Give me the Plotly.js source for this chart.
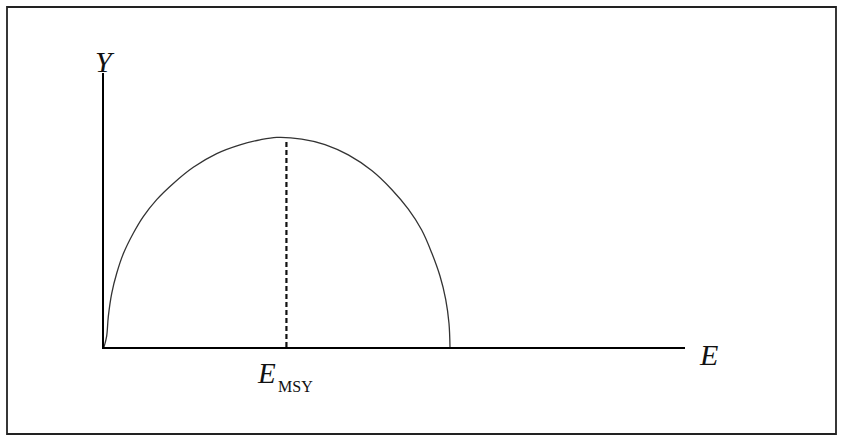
<!DOCTYPE html>
<html>
<head>
<meta charset="utf-8">
<script src="https://cdn.plot.ly/plotly-3.0.1.min.js"></script>
<style>html,body{margin:0;padding:0;background:#fff;}</style>
</head>
<body>
<div id="chart" style="width:842px;height:436px;"></div>
<script>
// Yield curve Y(E) (arbitrary units)
var effort = [0, 0.46, 0.74, 1.33, 2.19, 3.32, 5.04, 6.76, 9.07, 11.93, 15.37, 19.40, 23.41, 26.85, 29.72,
              34.03, 38.04, 42.05, 46.08, 49.52, 52.38, 54.68, 56.40, 57.83, 58.81, 59.38, 59.55];
var yieldVals = [0, 4.0, 11.1, 19.6, 26.9, 34.0, 41.5, 47.6, 53.8, 59.7, 65.6, 70.6, 73.8, 75.6, 76.5,
                 75.9, 73.9, 70.1, 64.4, 57.5, 50.3, 42.7, 34.4, 25.9, 17.4, 8.6, 0];
// E_MSY dashed marker
var eMsyX = [31.4, 31.4];
var eMsyY = [0, 75.2];
// labels
var yLabel = "Y";
var xLabel = "E";
var msyMain = "E";
var msySub = "MSY";

var serif = "Liberation Serif, Times New Roman, serif";

var traces = [
  {x: effort, y: yieldVals, mode: "lines", line: {color: "#333", width: 1.3, shape: "spline", smoothing: 1}, hoverinfo: "skip"},
  {x: eMsyX, y: eMsyY, mode: "lines", line: {color: "#111", width: 2.2, dash: "5px,3px"}, hoverinfo: "skip"}
];

var layout = {
  width: 842, height: 436,
  margin: {l: 104, r: 157, t: 73, b: 89},
  paper_bgcolor: "#fff", plot_bgcolor: "#fff",
  showlegend: false,
  xaxis: {range: [0, 100], showgrid: false, zeroline: false, showticklabels: false, ticks: "",
          showline: true, linecolor: "#000", linewidth: 2, fixedrange: true},
  yaxis: {range: [0, 100], showgrid: false, zeroline: false, showticklabels: false, ticks: "",
          showline: true, linecolor: "#000", linewidth: 2, fixedrange: true},
  shapes: [
    {type: "rect", xref: "paper", yref: "paper",
     x0: (7 - 104) / 581, x1: (836 - 104) / 581,
     y0: (347 - 434) / 274, y1: (347 - 7) / 274,
     line: {color: "#222", width: 1.8}}
  ],
  annotations: [
    {xref: "paper", yref: "paper", x: (105 - 104) / 581, y: (347 - 61) / 274, text: "<i>" + yLabel + "</i>",
     showarrow: false, xanchor: "center", yanchor: "middle",
     font: {family: serif, size: 30, color: "#111"}},
    {xref: "paper", yref: "paper", x: (708 - 104) / 581, y: (347 - 354) / 274, text: "<i>" + xLabel + "</i>",
     showarrow: false, xanchor: "center", yanchor: "middle",
     font: {family: serif, size: 30, color: "#111"}},
    {xref: "paper", yref: "paper", x: (266 - 104) / 581, y: (347 - 373) / 274, text: "<i>" + msyMain + "</i>",
     showarrow: false, xanchor: "center", yanchor: "middle",
     font: {family: serif, size: 29, color: "#111"}},
    {xref: "paper", yref: "paper", x: (295 - 104) / 581, y: (347 - 386) / 274, text: msySub,
     showarrow: false, xanchor: "center", yanchor: "middle",
     font: {family: serif, size: 16, color: "#111"}}
  ]
};

Plotly.newPlot("chart", traces, layout, {displayModeBar: false, staticPlot: true});
</script>
</body>
</html>
